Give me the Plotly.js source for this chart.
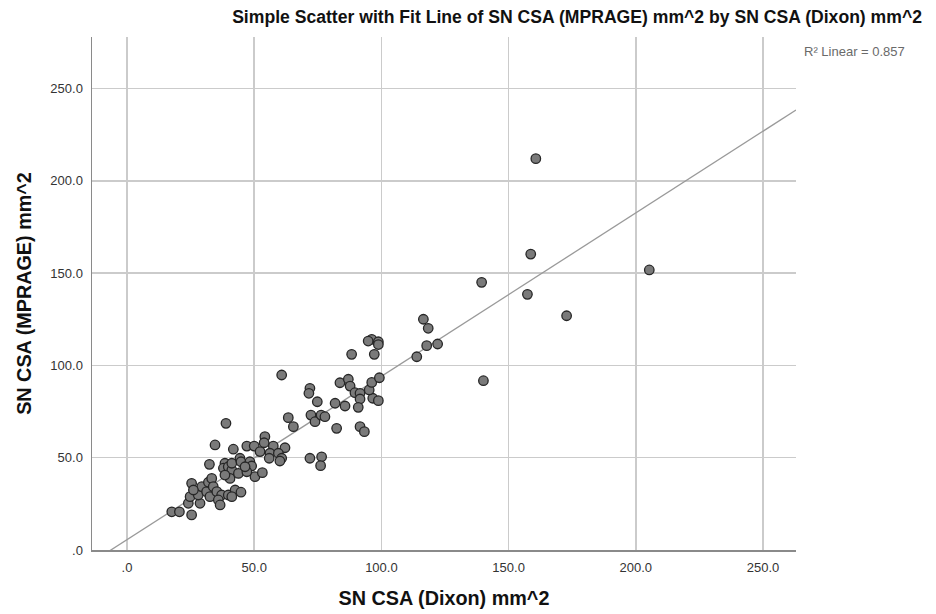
<!DOCTYPE html>
<html>
<head>
<meta charset="utf-8">
<script src="https://cdn.plot.ly/plotly-3.0.1.min.js"></script>
<style>html,body{margin:0;padding:0;background:#fff;}#chart{width:936px;height:614px;}</style>
</head>
<body>
<div id="chart"></div>
<script>
// SN CSA (Dixon) mm^2
const dixon = [17.6,20.6,25.4,24.1,28.7,24.8,28.0,25.4,29.4,26.1,31.3,32.6,32.0,33.3,33.9,35.3,37.2,35.9,36.6,39.8,
  32.4,34.6,38.5,37.9,39.8,41.2,40.5,38.5,38.9,41.8,47.1,50.0,57.5,62.1,52.3,56.2,55.9,59.5,60.8,60.1,
  71.9,76.5,76.1,41.2,44.4,44.8,48.3,49.0,50.3,53.2,43.8,47.1,42.5,44.8,41.2,46.4,
  54.2,53.9,63.4,65.4,72.3,73.9,76.3,77.8,71.9,71.5,74.8,60.8,
  81.8,85.7,82.4,83.7,87.0,87.7,89.6,91.6,91.6,90.9,96.6,98.8,95.2,96.2,99.2,88.3,97.2,96.2,94.8,98.8,98.8,91.6,93.3,
  113.9,117.8,122.1,116.5,118.4,139.4,140.1,157.4,158.7,160.7,172.8,205.3];
// SN CSA (MPRAGE) mm^2
const mprage = [20.7,20.7,19.0,25.3,25.3,28.9,29.8,36.1,34.3,32.5,31.6,28.9,36.7,38.8,34.3,31.6,29.8,27.1,24.4,29.8,
  46.4,56.9,47.0,44.3,45.1,43.3,38.8,40.6,68.6,54.6,56.3,56.3,56.3,55.4,53.3,52.4,49.7,52.4,49.7,48.2,
  49.7,50.5,45.7,47.0,49.7,47.8,47.8,45.5,39.7,41.9,41.5,42.4,32.5,31.3,28.9,45.1,
  61.4,58.1,71.7,66.8,73.1,69.5,73.1,72.2,87.6,84.9,80.3,94.8,
  79.5,78.0,65.9,90.6,92.5,88.8,85.2,84.9,81.8,77.3,82.2,80.9,86.7,90.8,93.3,106.0,106.0,114.1,113.2,112.8,111.3,66.8,64.1,
  104.7,110.7,111.6,125.0,120.1,145.0,91.7,138.5,160.3,212.0,126.9,151.7];

// Linear fit
const fitSlope = 0.885;
const fitIntercept = 5.6;
const rSquared = "0.857";

const tickVals = [0, 50, 100, 150, 200, 250];
const tickText = [".0", "50.0", "100.0", "150.0", "200.0", "250.0"];

const xRange = [-13.76, 262.97];
const yRange = [0, 277.9];

const fitX = [xRange[0], xRange[1]];
const fitY = fitX.map(v => fitSlope * v + fitIntercept);

const font = "Liberation Sans, Arial, sans-serif";

const traces = [
  {
    x: fitX, y: fitY, mode: "lines", type: "scatter",
    line: {color: "#9a9a9a", width: 1.3},
    hoverinfo: "skip", showlegend: false
  },
  {
    x: dixon, y: mprage, mode: "markers", type: "scatter",
    marker: {size: 9.5, color: "#7a7a7a", line: {color: "#262626", width: 1.3}},
    showlegend: false
  }
];

const layout = {
  width: 936, height: 614,
  margin: {l: 92, r: 140, t: 37, b: 64},
  paper_bgcolor: "#ffffff", plot_bgcolor: "#ffffff",
  font: {family: font, color: "#333"},
  title: {
    text: "<b>Simple Scatter with Fit Line of SN CSA (MPRAGE) mm^2 by SN CSA (Dixon) mm^2</b>",
    font: {family: font, size: 17.6, color: "#111"},
    x: 0.689, xanchor: "center", y: 0.972, yanchor: "middle", xref: "paper"
  },
  xaxis: {
    range: xRange, tickvals: tickVals, ticktext: tickText,
    showgrid: true, gridcolor: "#cbcbcb", gridwidth: 1.5,
    showline: true, linecolor: "#8a8a8a", linewidth: 1.5,
    zeroline: false, ticks: "", ticklabelstandoff: 5,
    tickfont: {family: font, size: 13, color: "#333"},
    title: {text: "<b>SN CSA (Dixon) mm^2</b>", font: {family: font, size: 19.8, color: "#111"}, standoff: 17}
  },
  yaxis: {
    range: yRange, tickvals: tickVals, ticktext: tickText,
    showgrid: true, gridcolor: "#cbcbcb", gridwidth: 1.5,
    showline: true, linecolor: "#8a8a8a", linewidth: 1.5,
    zeroline: false, ticks: "", ticklabelstandoff: 5,
    tickfont: {family: font, size: 13, color: "#333"},
    title: {text: "<b>SN CSA (MPRAGE) mm^2</b>", font: {family: font, size: 19.8, color: "#111"}, standoff: 13}
  },
  annotations: [{
    text: "R² Linear = " + rSquared,
    xref: "paper", yref: "paper", x: 1.0085, y: 0.971,
    xanchor: "left", yanchor: "middle", showarrow: false,
    font: {family: font, size: 13, color: "#6a6a6a"}
  }]
};

Plotly.newPlot("chart", traces, layout, {displayModeBar: false, staticPlot: true});
</script>
</body>
</html>
